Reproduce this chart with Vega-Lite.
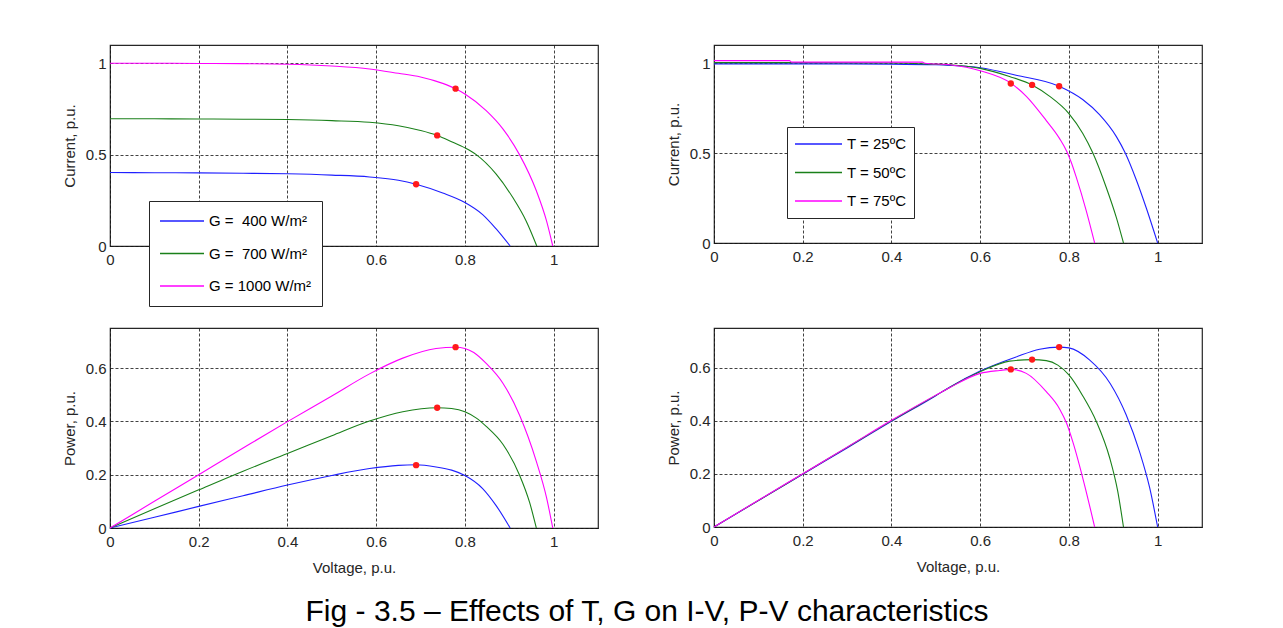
{
  "$schema": "https://vega.github.io/schema/vega-lite/v6.json",
  "background": "white",
  "padding": {"left": 61, "top": 44, "right": 5, "bottom": 5},
  "bounds": "flush",
  "columns": 2,
  "spacing": {"row": 82, "column": 116},
  "title": {
    "text": "Fig - 3.5 \u2013 Effects of T, G on I-V, P-V characteristics",
    "orient": "bottom",
    "anchor": "middle",
    "font": "Liberation Sans Narrow, Arial Narrow, Liberation Sans",
    "fontSize": 30,
    "fontWeight": "normal",
    "color": "black",
    "offset": 21,
    "dx": 15
  },
  "resolve": {"scale": {"color": "independent"}, "legend": {"color": "independent"}},
  "datasets": {
    "giv": [
      {"s": "G = \u00a0400 W/m\u00b2", "v": 0, "i": 0.402},
      {"s": "G = \u00a0400 W/m\u00b2", "v": 0.1, "i": 0.401},
      {"s": "G = \u00a0400 W/m\u00b2", "v": 0.2, "i": 0.4},
      {"s": "G = \u00a0400 W/m\u00b2", "v": 0.3, "i": 0.398},
      {"s": "G = \u00a0400 W/m\u00b2", "v": 0.4, "i": 0.395},
      {"s": "G = \u00a0400 W/m\u00b2", "v": 0.5, "i": 0.388},
      {"s": "G = \u00a0400 W/m\u00b2", "v": 0.585, "i": 0.378},
      {"s": "G = \u00a0400 W/m\u00b2", "v": 0.65, "i": 0.36},
      {"s": "G = \u00a0400 W/m\u00b2", "v": 0.69, "i": 0.338},
      {"s": "G = \u00a0400 W/m\u00b2", "v": 0.75, "i": 0.29},
      {"s": "G = \u00a0400 W/m\u00b2", "v": 0.8, "i": 0.238},
      {"s": "G = \u00a0400 W/m\u00b2", "v": 0.84, "i": 0.172},
      {"s": "G = \u00a0400 W/m\u00b2", "v": 0.87, "i": 0.095},
      {"s": "G = \u00a0400 W/m\u00b2", "v": 0.902, "i": 0},
      {"s": "G = \u00a0700 W/m\u00b2", "v": 0, "i": 0.696},
      {"s": "G = \u00a0700 W/m\u00b2", "v": 0.1, "i": 0.696},
      {"s": "G = \u00a0700 W/m\u00b2", "v": 0.2, "i": 0.695},
      {"s": "G = \u00a0700 W/m\u00b2", "v": 0.3, "i": 0.694},
      {"s": "G = \u00a0700 W/m\u00b2", "v": 0.4, "i": 0.692},
      {"s": "G = \u00a0700 W/m\u00b2", "v": 0.5, "i": 0.686},
      {"s": "G = \u00a0700 W/m\u00b2", "v": 0.585, "i": 0.677},
      {"s": "G = \u00a0700 W/m\u00b2", "v": 0.65, "i": 0.658},
      {"s": "G = \u00a0700 W/m\u00b2", "v": 0.7, "i": 0.632},
      {"s": "G = \u00a0700 W/m\u00b2", "v": 0.7375, "i": 0.605},
      {"s": "G = \u00a0700 W/m\u00b2", "v": 0.77, "i": 0.571},
      {"s": "G = \u00a0700 W/m\u00b2", "v": 0.8, "i": 0.537},
      {"s": "G = \u00a0700 W/m\u00b2", "v": 0.8255, "i": 0.5},
      {"s": "G = \u00a0700 W/m\u00b2", "v": 0.8705, "i": 0.393},
      {"s": "G = \u00a0700 W/m\u00b2", "v": 0.908, "i": 0.265},
      {"s": "G = \u00a0700 W/m\u00b2", "v": 0.938, "i": 0.137},
      {"s": "G = \u00a0700 W/m\u00b2", "v": 0.962, "i": 0},
      {"s": "G = 1000 W/m\u00b2", "v": 0, "i": 1.0},
      {"s": "G = 1000 W/m\u00b2", "v": 0.1, "i": 1.0},
      {"s": "G = 1000 W/m\u00b2", "v": 0.2, "i": 0.999},
      {"s": "G = 1000 W/m\u00b2", "v": 0.3, "i": 0.998},
      {"s": "G = 1000 W/m\u00b2", "v": 0.4, "i": 0.995},
      {"s": "G = 1000 W/m\u00b2", "v": 0.5, "i": 0.985},
      {"s": "G = 1000 W/m\u00b2", "v": 0.585, "i": 0.969},
      {"s": "G = 1000 W/m\u00b2", "v": 0.65, "i": 0.945},
      {"s": "G = 1000 W/m\u00b2", "v": 0.7, "i": 0.925},
      {"s": "G = 1000 W/m\u00b2", "v": 0.75, "i": 0.89},
      {"s": "G = 1000 W/m\u00b2", "v": 0.779, "i": 0.861},
      {"s": "G = 1000 W/m\u00b2", "v": 0.8, "i": 0.832},
      {"s": "G = 1000 W/m\u00b2", "v": 0.848, "i": 0.741},
      {"s": "G = 1000 W/m\u00b2", "v": 0.886, "i": 0.64},
      {"s": "G = 1000 W/m\u00b2", "v": 0.923, "i": 0.5},
      {"s": "G = 1000 W/m\u00b2", "v": 0.961, "i": 0.302},
      {"s": "G = 1000 W/m\u00b2", "v": 0.984, "i": 0.137},
      {"s": "G = 1000 W/m\u00b2", "v": 0.998, "i": 0}
    ],
    "gpv": [
      {"s": "G = \u00a0400 W/m\u00b2", "v": 0, "p": 0},
      {"s": "G = \u00a0400 W/m\u00b2", "v": 0.1, "p": 0.04},
      {"s": "G = \u00a0400 W/m\u00b2", "v": 0.2, "p": 0.081},
      {"s": "G = \u00a0400 W/m\u00b2", "v": 0.3, "p": 0.121},
      {"s": "G = \u00a0400 W/m\u00b2", "v": 0.4, "p": 0.161},
      {"s": "G = \u00a0400 W/m\u00b2", "v": 0.5, "p": 0.197},
      {"s": "G = \u00a0400 W/m\u00b2", "v": 0.585, "p": 0.223},
      {"s": "G = \u00a0400 W/m\u00b2", "v": 0.65, "p": 0.235},
      {"s": "G = \u00a0400 W/m\u00b2", "v": 0.69, "p": 0.237},
      {"s": "G = \u00a0400 W/m\u00b2", "v": 0.735, "p": 0.229},
      {"s": "G = \u00a0400 W/m\u00b2", "v": 0.77, "p": 0.217},
      {"s": "G = \u00a0400 W/m\u00b2", "v": 0.8, "p": 0.197},
      {"s": "G = \u00a0400 W/m\u00b2", "v": 0.84, "p": 0.148},
      {"s": "G = \u00a0400 W/m\u00b2", "v": 0.87, "p": 0.085},
      {"s": "G = \u00a0400 W/m\u00b2", "v": 0.902, "p": 0},
      {"s": "G = \u00a0700 W/m\u00b2", "v": 0, "p": 0},
      {"s": "G = \u00a0700 W/m\u00b2", "v": 0.1, "p": 0.072},
      {"s": "G = \u00a0700 W/m\u00b2", "v": 0.2, "p": 0.143},
      {"s": "G = \u00a0700 W/m\u00b2", "v": 0.3, "p": 0.213},
      {"s": "G = \u00a0700 W/m\u00b2", "v": 0.4, "p": 0.279},
      {"s": "G = \u00a0700 W/m\u00b2", "v": 0.5, "p": 0.346},
      {"s": "G = \u00a0700 W/m\u00b2", "v": 0.585, "p": 0.401},
      {"s": "G = \u00a0700 W/m\u00b2", "v": 0.66, "p": 0.436},
      {"s": "G = \u00a0700 W/m\u00b2", "v": 0.7375, "p": 0.451},
      {"s": "G = \u00a0700 W/m\u00b2", "v": 0.77, "p": 0.448},
      {"s": "G = \u00a0700 W/m\u00b2", "v": 0.8, "p": 0.436},
      {"s": "G = \u00a0700 W/m\u00b2", "v": 0.825, "p": 0.413},
      {"s": "G = \u00a0700 W/m\u00b2", "v": 0.848, "p": 0.381},
      {"s": "G = \u00a0700 W/m\u00b2", "v": 0.886, "p": 0.313},
      {"s": "G = \u00a0700 W/m\u00b2", "v": 0.923, "p": 0.199},
      {"s": "G = \u00a0700 W/m\u00b2", "v": 0.946, "p": 0.095},
      {"s": "G = \u00a0700 W/m\u00b2", "v": 0.961, "p": 0},
      {"s": "G = 1000 W/m\u00b2", "v": 0, "p": 0},
      {"s": "G = 1000 W/m\u00b2", "v": 0.1, "p": 0.1},
      {"s": "G = 1000 W/m\u00b2", "v": 0.2, "p": 0.2},
      {"s": "G = 1000 W/m\u00b2", "v": 0.3, "p": 0.3},
      {"s": "G = 1000 W/m\u00b2", "v": 0.4, "p": 0.399},
      {"s": "G = 1000 W/m\u00b2", "v": 0.5, "p": 0.495},
      {"s": "G = 1000 W/m\u00b2", "v": 0.585, "p": 0.578},
      {"s": "G = 1000 W/m\u00b2", "v": 0.66, "p": 0.637},
      {"s": "G = 1000 W/m\u00b2", "v": 0.735, "p": 0.673},
      {"s": "G = 1000 W/m\u00b2", "v": 0.779, "p": 0.678},
      {"s": "G = 1000 W/m\u00b2", "v": 0.8, "p": 0.673},
      {"s": "G = 1000 W/m\u00b2", "v": 0.82, "p": 0.658},
      {"s": "G = 1000 W/m\u00b2", "v": 0.848, "p": 0.617},
      {"s": "G = 1000 W/m\u00b2", "v": 0.886, "p": 0.542},
      {"s": "G = 1000 W/m\u00b2", "v": 0.923, "p": 0.424},
      {"s": "G = 1000 W/m\u00b2", "v": 0.961, "p": 0.25},
      {"s": "G = 1000 W/m\u00b2", "v": 0.984, "p": 0.114},
      {"s": "G = 1000 W/m\u00b2", "v": 0.998, "p": 0}
    ],
    "gmpp": [
      {"s": "G = \u00a0400 W/m\u00b2", "v": 0.69, "i": 0.338, "p": 0.2355},
      {"s": "G = \u00a0700 W/m\u00b2", "v": 0.7375, "i": 0.605, "p": 0.451},
      {"s": "G = 1000 W/m\u00b2", "v": 0.779, "i": 0.861, "p": 0.678}
    ],
    "tiv": [
      {"s": "T = 25\u00baC", "v": 0, "i": 0.995},
      {"s": "T = 25\u00baC", "v": 0.1, "i": 0.995},
      {"s": "T = 25\u00baC", "v": 0.2, "i": 0.995},
      {"s": "T = 25\u00baC", "v": 0.3, "i": 0.995},
      {"s": "T = 25\u00baC", "v": 0.4, "i": 0.994},
      {"s": "T = 25\u00baC", "v": 0.5, "i": 0.99},
      {"s": "T = 25\u00baC", "v": 0.531, "i": 0.987},
      {"s": "T = 25\u00baC", "v": 0.6, "i": 0.974},
      {"s": "T = 25\u00baC", "v": 0.681, "i": 0.932},
      {"s": "T = 25\u00baC", "v": 0.778, "i": 0.871},
      {"s": "T = 25\u00baC", "v": 0.831, "i": 0.797},
      {"s": "T = 25\u00baC", "v": 0.869, "i": 0.713},
      {"s": "T = 25\u00baC", "v": 0.907, "i": 0.591},
      {"s": "T = 25\u00baC", "v": 0.927, "i": 0.5},
      {"s": "T = 25\u00baC", "v": 0.952, "i": 0.35},
      {"s": "T = 25\u00baC", "v": 0.975, "i": 0.19},
      {"s": "T = 25\u00baC", "v": 1.0, "i": 0},
      {"s": "T = 50\u00baC", "v": 0, "i": 1.002},
      {"s": "T = 50\u00baC", "v": 0.2, "i": 1.002},
      {"s": "T = 50\u00baC", "v": 0.4, "i": 1.0},
      {"s": "T = 50\u00baC", "v": 0.5, "i": 0.993},
      {"s": "T = 50\u00baC", "v": 0.531, "i": 0.99},
      {"s": "T = 50\u00baC", "v": 0.6, "i": 0.97},
      {"s": "T = 50\u00baC", "v": 0.666, "i": 0.925},
      {"s": "T = 50\u00baC", "v": 0.717, "i": 0.878},
      {"s": "T = 50\u00baC", "v": 0.756, "i": 0.816},
      {"s": "T = 50\u00baC", "v": 0.8, "i": 0.719},
      {"s": "T = 50\u00baC", "v": 0.831, "i": 0.61},
      {"s": "T = 50\u00baC", "v": 0.854, "i": 0.5},
      {"s": "T = 50\u00baC", "v": 0.884, "i": 0.31},
      {"s": "T = 50\u00baC", "v": 0.907, "i": 0.141},
      {"s": "T = 50\u00baC", "v": 0.923, "i": 0},
      {"s": "T = 75\u00baC", "v": 0, "i": 1.013},
      {"s": "T = 75\u00baC", "v": 0.17, "i": 1.013},
      {"s": "T = 75\u00baC", "v": 0.175, "i": 1.005},
      {"s": "T = 75\u00baC", "v": 0.47, "i": 1.005},
      {"s": "T = 75\u00baC", "v": 0.475, "i": 0.999},
      {"s": "T = 75\u00baC", "v": 0.531, "i": 0.99},
      {"s": "T = 75\u00baC", "v": 0.6, "i": 0.957},
      {"s": "T = 75\u00baC", "v": 0.669, "i": 0.888},
      {"s": "T = 75\u00baC", "v": 0.704, "i": 0.815},
      {"s": "T = 75\u00baC", "v": 0.749, "i": 0.68},
      {"s": "T = 75\u00baC", "v": 0.779, "i": 0.58},
      {"s": "T = 75\u00baC", "v": 0.795, "i": 0.51},
      {"s": "T = 75\u00baC", "v": 0.805, "i": 0.45},
      {"s": "T = 75\u00baC", "v": 0.816, "i": 0.37},
      {"s": "T = 75\u00baC", "v": 0.839, "i": 0.18},
      {"s": "T = 75\u00baC", "v": 0.858, "i": 0}
    ],
    "tpv": [
      {"s": "T = 25\u00baC", "v": 0, "p": 0},
      {"s": "T = 25\u00baC", "v": 0.1, "p": 0.0995},
      {"s": "T = 25\u00baC", "v": 0.2, "p": 0.199},
      {"s": "T = 25\u00baC", "v": 0.3, "p": 0.298},
      {"s": "T = 25\u00baC", "v": 0.4, "p": 0.398},
      {"s": "T = 25\u00baC", "v": 0.5, "p": 0.495},
      {"s": "T = 25\u00baC", "v": 0.531, "p": 0.527},
      {"s": "T = 25\u00baC", "v": 0.6, "p": 0.588},
      {"s": "T = 25\u00baC", "v": 0.681, "p": 0.641},
      {"s": "T = 25\u00baC", "v": 0.734, "p": 0.67},
      {"s": "T = 25\u00baC", "v": 0.778, "p": 0.678},
      {"s": "T = 25\u00baC", "v": 0.8, "p": 0.675},
      {"s": "T = 25\u00baC", "v": 0.847, "p": 0.629},
      {"s": "T = 25\u00baC", "v": 0.893, "p": 0.541},
      {"s": "T = 25\u00baC", "v": 0.929, "p": 0.423},
      {"s": "T = 25\u00baC", "v": 0.959, "p": 0.285},
      {"s": "T = 25\u00baC", "v": 0.982, "p": 0.148},
      {"s": "T = 25\u00baC", "v": 1.0, "p": 0},
      {"s": "T = 50\u00baC", "v": 0, "p": 0},
      {"s": "T = 50\u00baC", "v": 0.1, "p": 0.1},
      {"s": "T = 50\u00baC", "v": 0.2, "p": 0.2},
      {"s": "T = 50\u00baC", "v": 0.3, "p": 0.3},
      {"s": "T = 50\u00baC", "v": 0.4, "p": 0.4},
      {"s": "T = 50\u00baC", "v": 0.5, "p": 0.496},
      {"s": "T = 50\u00baC", "v": 0.531, "p": 0.526},
      {"s": "T = 50\u00baC", "v": 0.6, "p": 0.585},
      {"s": "T = 50\u00baC", "v": 0.666, "p": 0.625},
      {"s": "T = 50\u00baC", "v": 0.717, "p": 0.631},
      {"s": "T = 50\u00baC", "v": 0.749, "p": 0.627},
      {"s": "T = 50\u00baC", "v": 0.775, "p": 0.61},
      {"s": "T = 50\u00baC", "v": 0.8, "p": 0.573},
      {"s": "T = 50\u00baC", "v": 0.831, "p": 0.495},
      {"s": "T = 50\u00baC", "v": 0.862, "p": 0.397},
      {"s": "T = 50\u00baC", "v": 0.892, "p": 0.26},
      {"s": "T = 50\u00baC", "v": 0.91, "p": 0.135},
      {"s": "T = 50\u00baC", "v": 0.923, "p": 0},
      {"s": "T = 75\u00baC", "v": 0, "p": 0},
      {"s": "T = 75\u00baC", "v": 0.1, "p": 0.101},
      {"s": "T = 75\u00baC", "v": 0.2, "p": 0.201},
      {"s": "T = 75\u00baC", "v": 0.3, "p": 0.301},
      {"s": "T = 75\u00baC", "v": 0.4, "p": 0.402},
      {"s": "T = 75\u00baC", "v": 0.5, "p": 0.497},
      {"s": "T = 75\u00baC", "v": 0.531, "p": 0.525},
      {"s": "T = 75\u00baC", "v": 0.6, "p": 0.579},
      {"s": "T = 75\u00baC", "v": 0.644, "p": 0.59},
      {"s": "T = 75\u00baC", "v": 0.669, "p": 0.594},
      {"s": "T = 75\u00baC", "v": 0.704, "p": 0.579},
      {"s": "T = 75\u00baC", "v": 0.749, "p": 0.51},
      {"s": "T = 75\u00baC", "v": 0.779, "p": 0.445},
      {"s": "T = 75\u00baC", "v": 0.795, "p": 0.39},
      {"s": "T = 75\u00baC", "v": 0.809, "p": 0.32},
      {"s": "T = 75\u00baC", "v": 0.835, "p": 0.16},
      {"s": "T = 75\u00baC", "v": 0.858, "p": 0}
    ],
    "tmpp": [
      {"s": "T = 25\u00baC", "v": 0.778, "i": 0.871, "p": 0.678},
      {"s": "T = 50\u00baC", "v": 0.717, "i": 0.878, "p": 0.631},
      {"s": "T = 75\u00baC", "v": 0.669, "i": 0.886, "p": 0.594}
    ]
  },
  "concat": [
    {
      "width": 488,
      "height": 201,
      "layer": [
        {
          "data": {"name": "giv"},
          "mark": {"type": "line", "interpolate": "monotone", "strokeWidth": 1.1},
          "encoding": {
            "x": {"field": "v", "type": "quantitative", "scale": {"domain": [0, 1.1], "nice": false}, "axis": {"values": [0, 0.2, 0.4, 0.6, 0.8, 1], "title": null, "labelExpr": "datum.value > 0.1 && datum.value < 0.5 ? '' : datum.label"}},
            "y": {"field": "i", "type": "quantitative", "scale": {"domain": [0, 1.1], "nice": false}, "axis": {"values": [0, 0.5, 1], "title": "Current, p.u."}},
            "color": {
              "field": "s", "type": "nominal",
              "scale": {"domain": ["G = \u00a0400 W/m\u00b2", "G = \u00a0700 W/m\u00b2", "G = 1000 W/m\u00b2"], "range": ["#1f1fff", "#1a801a", "#ff00ff"]},
              "legend": {"orient": "none", "legendX": 39, "legendY": 156, "symbolSize": 1936, "clipHeight": 20, "rowPadding": 12.5, "padding": 10}
            }
          }
        },
        {
          "data": {"name": "gmpp"},
          "mark": {"type": "point", "filled": true, "color": "#ff1a1a", "size": 40, "opacity": 1},
          "encoding": {
            "x": {"field": "v", "type": "quantitative"},
            "y": {"field": "i", "type": "quantitative"}
          }
        }
      ]
    },
    {
      "width": 488,
      "height": 198,
      "layer": [
        {
          "data": {"name": "tiv"},
          "mark": {"type": "line", "interpolate": "monotone", "strokeWidth": 1.1},
          "encoding": {
            "x": {"field": "v", "type": "quantitative", "scale": {"domain": [0, 1.1], "nice": false}, "axis": {"values": [0, 0.2, 0.4, 0.6, 0.8, 1], "title": null}},
            "y": {"field": "i", "type": "quantitative", "scale": {"domain": [0, 1.1], "nice": false}, "axis": {"values": [0, 0.5, 1], "title": "Current, p.u."}},
            "color": {
              "field": "s", "type": "nominal",
              "scale": {"domain": ["T = 25\u00baC", "T = 50\u00baC", "T = 75\u00baC"], "range": ["#1f1fff", "#1a801a", "#ff00ff"]},
              "legend": {"orient": "none", "legendX": 73, "legendY": 82, "symbolSize": 2209, "clipHeight": 20, "rowPadding": 8.5, "padding": 7}
            }
          }
        },
        {
          "data": {"name": "tmpp"},
          "mark": {"type": "point", "filled": true, "color": "#ff1a1a", "size": 40, "opacity": 1},
          "encoding": {
            "x": {"field": "v", "type": "quantitative"},
            "y": {"field": "i", "type": "quantitative"}
          }
        }
      ]
    },
    {
      "width": 488,
      "height": 200,
      "layer": [
        {
          "data": {"name": "gpv"},
          "mark": {"type": "line", "interpolate": "monotone", "strokeWidth": 1.1},
          "encoding": {
            "x": {"field": "v", "type": "quantitative", "scale": {"domain": [0, 1.1], "nice": false}, "axis": {"values": [0, 0.2, 0.4, 0.6, 0.8, 1], "title": "Voltage, p.u."}},
            "y": {"field": "p", "type": "quantitative", "scale": {"domain": [0, 0.75], "nice": false}, "axis": {"values": [0, 0.2, 0.4, 0.6], "title": "Power, p.u."}},
            "color": {
              "field": "s", "type": "nominal",
              "scale": {"domain": ["G = \u00a0400 W/m\u00b2", "G = \u00a0700 W/m\u00b2", "G = 1000 W/m\u00b2"], "range": ["#1f1fff", "#1a801a", "#ff00ff"]},
              "legend": null
            }
          }
        },
        {
          "data": {"name": "gmpp"},
          "mark": {"type": "point", "filled": true, "color": "#ff1a1a", "size": 40, "opacity": 1},
          "encoding": {
            "x": {"field": "v", "type": "quantitative"},
            "y": {"field": "p", "type": "quantitative"}
          }
        }
      ]
    },
    {
      "width": 488,
      "height": 199,
      "layer": [
        {
          "data": {"name": "tpv"},
          "mark": {"type": "line", "interpolate": "monotone", "strokeWidth": 1.1},
          "encoding": {
            "x": {"field": "v", "type": "quantitative", "scale": {"domain": [0, 1.1], "nice": false}, "axis": {"values": [0, 0.2, 0.4, 0.6, 0.8, 1], "title": "Voltage, p.u."}},
            "y": {"field": "p", "type": "quantitative", "scale": {"domain": [0, 0.75], "nice": false}, "axis": {"values": [0, 0.2, 0.4, 0.6], "title": "Power, p.u."}},
            "color": {
              "field": "s", "type": "nominal",
              "scale": {"domain": ["T = 25\u00baC", "T = 50\u00baC", "T = 75\u00baC"], "range": ["#1f1fff", "#1a801a", "#ff00ff"]},
              "legend": null
            }
          }
        },
        {
          "data": {"name": "tmpp"},
          "mark": {"type": "point", "filled": true, "color": "#ff1a1a", "size": 40, "opacity": 1},
          "encoding": {
            "x": {"field": "v", "type": "quantitative"},
            "y": {"field": "p", "type": "quantitative"}
          }
        }
      ]
    }
  ],
  "config": {
    "view": {"stroke": "#262626", "strokeWidth": 1.2},
    "axis": {
      "grid": true,
      "gridColor": "#111111",
      "gridDash": [3, 2],
      "gridWidth": 0.8,
      "gridOpacity": 1,
      "domain": false,
      "ticks": false,
      "labelFont": "Liberation Sans Narrow, Arial Narrow, Liberation Sans",
      "labelFontSize": 15,
      "labelColor": "#262626",
      "labelFlush": false,
      "labelOverlap": false,
      "format": "~g",
      "titleFont": "Liberation Sans, Arial",
      "titleFontSize": 15,
      "titleFontWeight": "normal",
      "titleColor": "#262626"
    },
    "axisX": {"labelPadding": 6, "titlePadding": 11},
    "axisY": {"labelPadding": 4, "titlePadding": 8},
    "legend": {
      "title": null,
      "symbolType": "stroke",
      "symbolStrokeWidth": 1.5,
      "labelFont": "Liberation Sans Narrow, Arial Narrow, Liberation Sans",
      "labelFontSize": 15,
      "labelColor": "black",
      "labelOffset": 4,
      "strokeColor": "#262626",
      "fillColor": "white",
      "labelLimit": 300
    }
  }
}
